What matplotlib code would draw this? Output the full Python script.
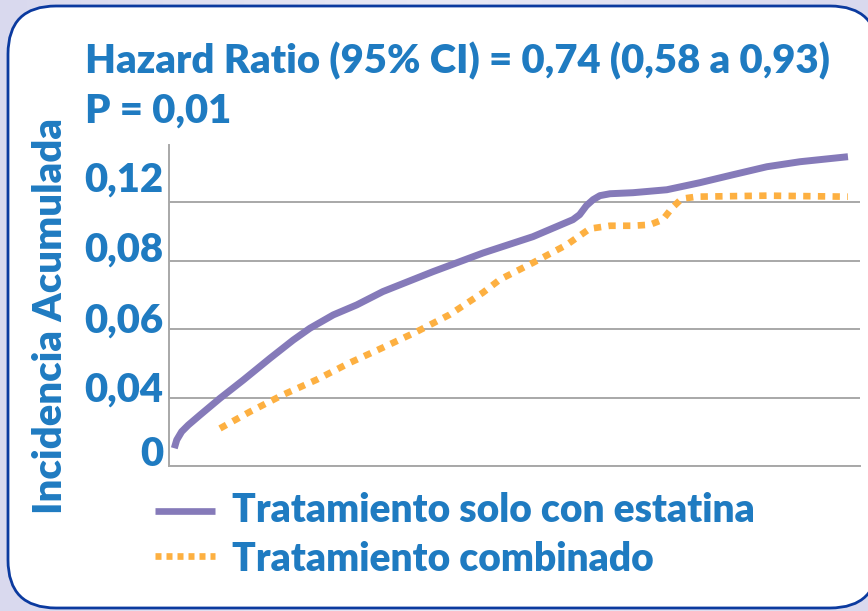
import numpy as np
import matplotlib
matplotlib.use("Agg")
import matplotlib.pyplot as plt
from matplotlib.patches import FancyBboxPatch
from matplotlib.lines import Line2D
from matplotlib.colors import LinearSegmentedColormap

# ---------------- data ----------------
title_line1 = "Hazard Ratio (95% CI) = 0,74 (0,58 a 0,93)"
title_line2 = "P = 0,01"
y_label = "Incidencia Acumulada"
series_names = ["Tratamiento solo con estatina", "Tratamiento combinado"]
y_ticks = [0, 0.04, 0.06, 0.08, 0.12]
y_tick_labels = ["0", "0,04", "0,06", "0,08", "0,12"]

t_statin = [0.34, 0.70, 1.43, 2.41, 4.14, 7.10, 10.55, 14.5, 17.94, 20.4,
            23.86, 27.32, 31.2, 38.6, 46.0, 53.4, 59.3, 60.3, 61.3, 62.3,
            63.3, 64.8, 68.2, 73.2, 78.1, 83.0, 88.0, 92.9, 100]
inc_statin = [0.0105, 0.0154, 0.0203, 0.0242, 0.0301, 0.0400, 0.0453, 0.0516,
              0.0569, 0.0603, 0.0642, 0.0671, 0.0710, 0.0768, 0.0852, 0.0963,
              0.1078, 0.1112, 0.1173, 0.1214, 0.1241, 0.1254, 0.1261, 0.1281,
              0.1329, 0.1383, 0.1437, 0.1471, 0.1505]

t_combo = [7.1, 11.5, 16.4, 21.4, 26.3, 31.2, 36.2, 41.1, 46.0, 48.5, 53.4,
           58.4, 61.8, 64.8, 68.2, 70.7, 72.6, 74.0, 75.4, 77.6, 88.0, 100]
inc_combo = [0.0222, 0.0320, 0.0410, 0.0454, 0.0503, 0.0547, 0.0593, 0.0643,
             0.0707, 0.0745, 0.0794, 0.0908, 0.1017, 0.1037, 0.1037, 0.1044,
             0.1078, 0.1159, 0.1220, 0.1234, 0.1241, 0.1234]

# ---------------- style ----------------
W, H = 868, 611
BLUE = "#1f7bc1"
PURPLE = "#857ab9"
ORANGE = "#fdb041"
GRID = "#a8a8a8"
FONT = "Lato"

# the original axis places gridlines at uneven spacing (schematic scale)
grid_pos = np.array([0, 67.7, 136.7, 205.3, 264.3]) / 264.3
tick_vals = np.array(y_ticks, float)
s_lo = (grid_pos[1] - grid_pos[0]) / (tick_vals[1] - tick_vals[0])
s_hi = (grid_pos[-1] - grid_pos[-2]) / (tick_vals[-1] - tick_vals[-2])


def fwd(v):
    v = np.asarray(v, float)
    out = np.interp(v, tick_vals, grid_pos)
    out = np.where(v < tick_vals[0], grid_pos[0] + (v - tick_vals[0]) * s_lo, out)
    out = np.where(v > tick_vals[-1], grid_pos[-1] + (v - tick_vals[-1]) * s_hi, out)
    return out


def inv(p):
    p = np.asarray(p, float)
    out = np.interp(p, grid_pos, tick_vals)
    out = np.where(p < grid_pos[0], tick_vals[0] + (p - grid_pos[0]) / s_lo, out)
    out = np.where(p > grid_pos[-1], tick_vals[-1] + (p - grid_pos[-1]) / s_hi, out)
    return out


fig = plt.figure(figsize=(W / 100, H / 100), dpi=100)
fig.patch.set_facecolor("#dfe0f0")

# background with rounded white panel (pixel coordinates)
bg = fig.add_axes([0, 0, 1, 1], zorder=-10)
grad = np.linspace(0, 1, 256)[None, :] * np.ones((64, 1))
cmap = LinearSegmentedColormap.from_list("bgc", ["#d9d9ee", "#e9e9f5", "#d9d9ee"])
bg.imshow(grad, cmap=cmap, extent=[0, W, H, 0], aspect="auto")
bg.set_xlim(0, W)
bg.set_ylim(H, 0)
bg.axis("off")
panel = FancyBboxPatch((8, 6), 870, 602, boxstyle="round,pad=0,rounding_size=48",
                       facecolor="white", edgecolor="#0b3a9f", linewidth=2.0)
bg.add_patch(panel)

# main axes
ax = fig.add_axes([169 / W, (H - 466) / H, (860 - 169) / W, (466 - 145) / H])
ax.set_yscale("function", functions=(fwd, inv))
ax.set_facecolor("none")
ax.plot(t_statin, inc_statin, color=PURPLE, lw=5.0, solid_capstyle="butt",
        solid_joinstyle="round", zorder=3)
ax.plot(t_combo, inc_combo, color=ORANGE, lw=4.8, linestyle=(0, (1.1, 1.1)),
        dash_capstyle="butt", dash_joinstyle="round", zorder=3)
ax.set_xlim(-0.444, 101.78)
ax.set_ylim(0, inv(321 / 264.3))
ax.set_yticks(y_ticks)
ax.yaxis.set_major_formatter(matplotlib.ticker.NullFormatter())
ax.yaxis.set_minor_locator(matplotlib.ticker.NullLocator())
ax.set_xticks([])
ax.tick_params(axis="y", length=0)
ax.grid(axis="y", color=GRID, lw=1.4)
for s in ["top", "right"]:
    ax.spines[s].set_visible(False)
for s in ["left", "bottom"]:
    ax.spines[s].set_color(GRID)
    ax.spines[s].set_linewidth(1.4)

# ---------------- texts ----------------
def px(x, y):
    return x / W, 1 - y / H

kw = dict(family=FONT, weight="heavy", color=BLUE)
t1 = fig.text(*px(85, 73), title_line1, ha="left", va="baseline", fontsize=28, **kw)
l1 = fig.text(*px(232, 522), series_names[0], ha="left", va="baseline", fontsize=28, **kw)
fig.canvas.draw()
r = fig.canvas.get_renderer()
fs = 28 * (830 - 85) / t1.get_window_extent(r).width
fs_leg = 28 * (755 - 232) / l1.get_window_extent(r).width
t1.set_fontsize(fs)
l1.set_fontsize(fs_leg)

fig.text(*px(85, 123), title_line2, ha="left", va="baseline", fontsize=fs, **kw)
fig.text(*px(62, 316), y_label, rotation=90, rotation_mode="anchor",
         ha="center", va="baseline", fontsize=fs, **kw)

label_dy = [0, -3, -3, -1, 10]
for v, lab, dy in zip(y_ticks, y_tick_labels, label_dy):
    ax.annotate(lab, xy=(0, v), xycoords=ax.get_yaxis_transform(),
                xytext=(-6, dy), textcoords="offset pixels",
                ha="right", va="baseline", fontsize=fs, annotation_clip=False, **kw)

# legend (manual)
bg.add_line(Line2D([155, 215], [511, 511], color=PURPLE, lw=4.8, solid_capstyle="butt"))
bg.add_line(Line2D([155, 215], [556, 556], color=ORANGE, lw=4.8,
                   linestyle=(0, (0.9, 0.75)), dash_capstyle="butt"))
fig.text(*px(232, 571), series_names[1], ha="left", va="baseline", fontsize=fs_leg, **kw)

fig.savefig("out.png", dpi=100, facecolor=fig.get_facecolor())
